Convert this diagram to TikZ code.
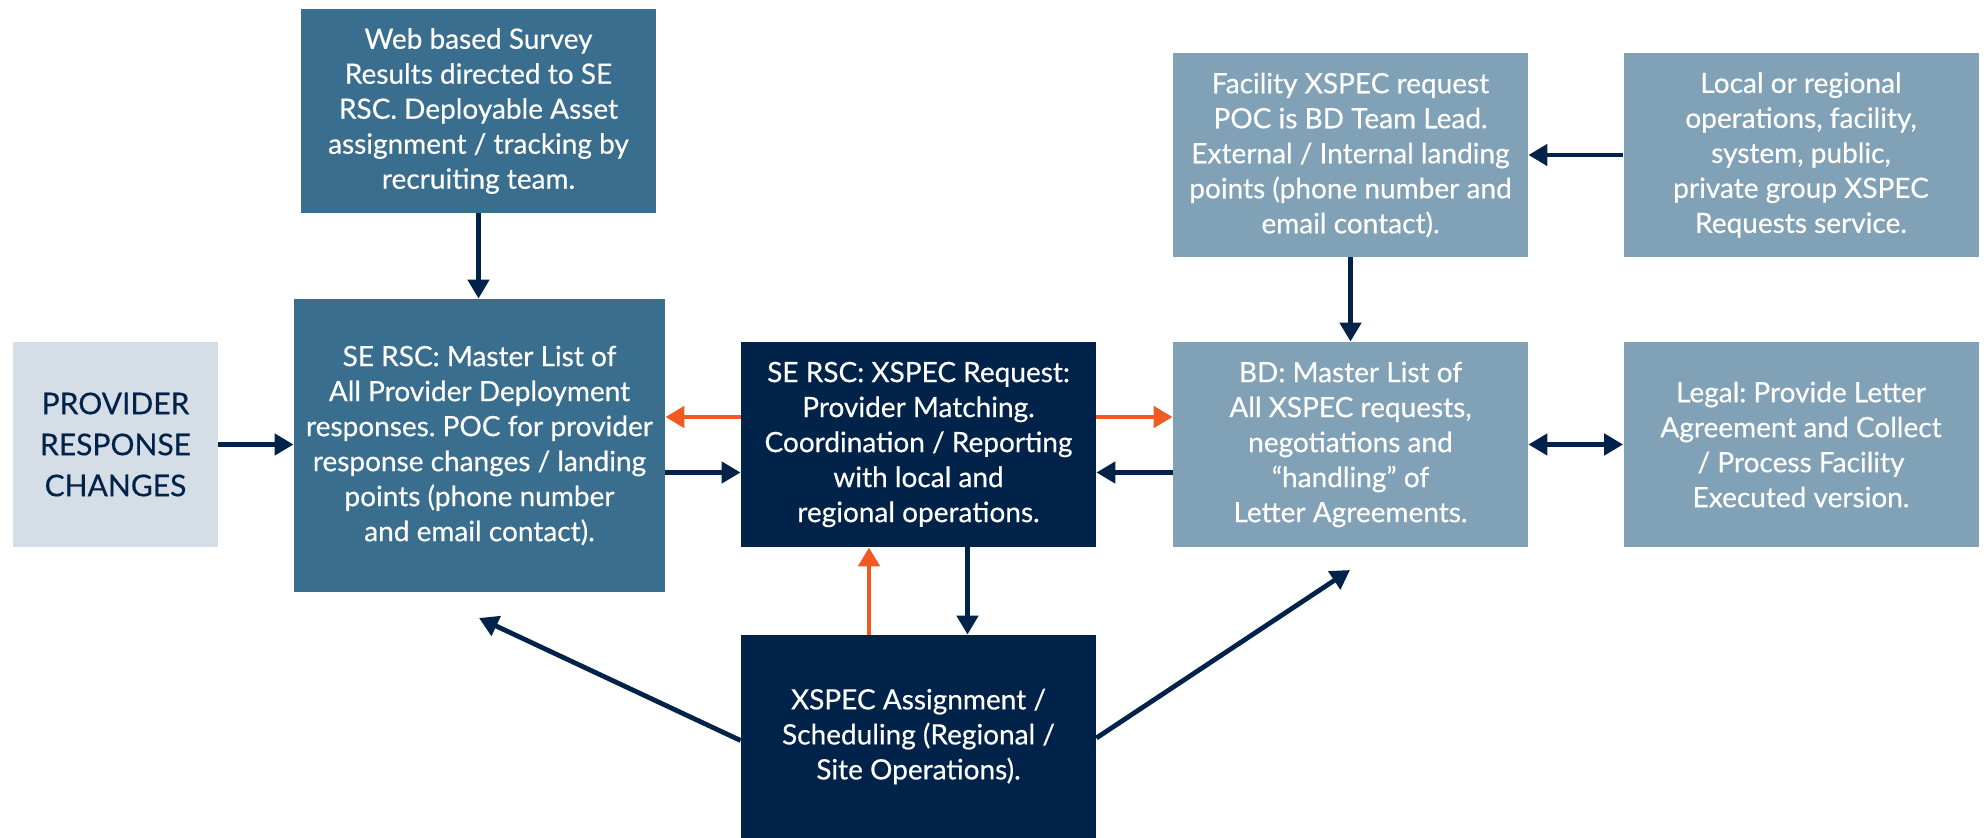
\documentclass[tikz,border=0pt]{standalone}
\usepackage{fontspec}
\setmainfont{Lato}[FakeBold=0.4]
\frenchspacing
\usetikzlibrary{arrows.meta}
\definecolor{steel}{HTML}{3A6E8F}
\definecolor{navy}{HTML}{01234A}
\definecolor{greyblue}{HTML}{80A1B6}
\definecolor{pale}{HTML}{D5DEE7}
\definecolor{orng}{HTML}{F15A22}
\tikzset{
  box/.style={rectangle, inner sep=0pt, align=center, text=white,
    font=\fontsize{14}{17.5}\selectfont, minimum width=177.5pt, minimum height=102.5pt},
  navyarr/.style={draw=navy, line width=2.4pt, -{Triangle[length=9.5pt,width=10.5pt]}},
  orarr/.style={draw=orng, line width=2.4pt, -{Triangle[length=9.5pt,width=10.5pt]}},
}
\begin{document}
\begin{tikzpicture}[x=0.5pt,y=-0.5pt]
\useasboundingbox (0,0) rectangle (1986,838);
\node[box, fill=steel, minimum height=102pt] (web) at (478.5,111) {Web based Survey\\Results directed to SE\\RSC. Deployable Asset\\assignment / tracking by\\recruiting team.};
\node[box, fill=steel, minimum width=185.5pt, minimum height=146.5pt] (sem) at (479.5,445.5) {SE RSC: Master List of\\All Provider Deployment\\responses. POC for provider\\response changes / landing\\points (phone number\\and email contact).};
\node[box, fill=pale, text=navy, minimum width=102.5pt, font=\fontsize{15}{20.5}\selectfont] (prov) at (115.5,444.5) {PROVIDER\\RESPONSE\\CHANGES};
\node[box, fill=navy] (req) at (918.5,444.5) {SE RSC: XSPEC Request:\\Provider Matching.\\Coordination / Reporting\\with local and\\regional operations.};
\node[box, fill=greyblue] (bd) at (1350.5,444.5) {BD: Master List of\\All XSPEC requests,\\negotiations and\\``handling'' of\\Letter Agreements.};
\node[box, fill=greyblue] (legal) at (1801,444.5) {Legal: Provide Letter\\Agreement and Collect\\/ Process Facility\\Executed version.};
\node[box, fill=greyblue, minimum height=102pt] (fac) at (1350.5,155) {Facility XSPEC request\\POC is BD Team Lead.\\External / Internal landing\\points (phone number and\\email contact).};
\node[box, fill=greyblue, minimum height=102pt] (loc) at (1801,155) {Local or regional\\operations, facility,\\system, public,\\private group XSPEC\\Requests service.};
\node[box, fill=navy, minimum height=101.5pt] (asg) at (918.5,736.5) {XSPEC Assignment /\\Scheduling (Regional /\\Site Operations).};
\coordinate (semtip) at (479,618);
\coordinate (bdtip) at (1350,570);
\draw[navyarr] (web.south) -- (web.south |- sem.north);
\draw[navyarr] (prov.east) -- (prov.east -| sem.west);
\draw[orarr] ([yshift=13.75pt]req.west) -- ([yshift=13.75pt]req.west -| sem.east);
\draw[navyarr] ([yshift=-14pt]sem.east |- req.west) -- ([yshift=-14pt]req.west);
\draw[orarr] ([yshift=13.75pt]req.east) -- ([yshift=13.75pt]req.east -| bd.west);
\draw[navyarr] ([yshift=-14pt]bd.west) -- ([yshift=-14pt]bd.west -| req.east);
\draw[navyarr] (fac.south) -- (bd.north);
\draw[navyarr] (loc.west) -- (fac.east);
\draw[navyarr, {Triangle[length=9.5pt,width=10.5pt]}-{Triangle[length=9.5pt,width=10.5pt]}] (bd.east) -- (legal.west);
\draw[navyarr] ([xshift=24.5pt]req.south) -- ([xshift=24.5pt]asg.north);
\draw[orarr] ([xshift=-24.75pt]asg.north) -- ([xshift=-24.75pt]req.south);
\draw[navyarr] ([yshift=-2pt]asg.west) -- (semtip);
\draw[navyarr] ([yshift=-0.75pt]asg.east) -- (bdtip);
\end{tikzpicture}
\end{document}
